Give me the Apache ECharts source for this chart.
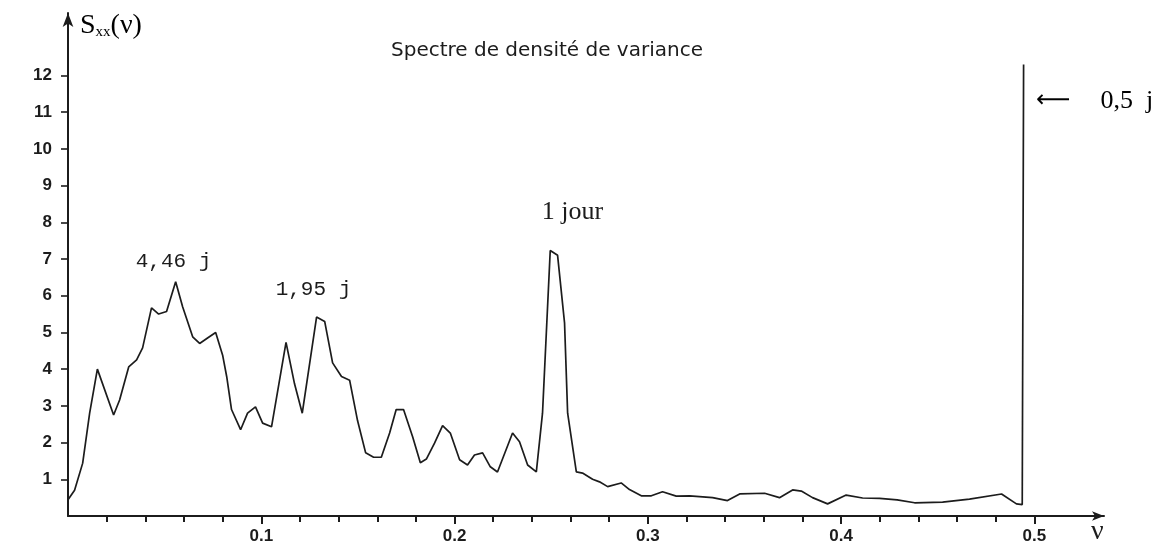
<!DOCTYPE html>
<html>
<head>
<meta charset="utf-8">
<script src="https://cdn.jsdelivr.net/npm/echarts@6/dist/echarts.min.js"></script>
<style>
  html, body { margin: 0; padding: 0; background: #ffffff; }
  #chart { width: 1174px; height: 548px; }
</style>
</head>
<body>
<div id="chart"></div>
<script>
// Frequency (cycles per sample, 6-hour sampling) and variance density S_xx(v)
const freq = [
  0.0000, 0.0034, 0.0076, 0.0112, 0.0152, 0.0236, 0.0267, 0.0314, 0.0355, 0.0386,
  0.0432, 0.0469, 0.0510, 0.0557, 0.0593, 0.0645, 0.0681, 0.0722, 0.0764, 0.0800,
  0.0821, 0.0846, 0.0893, 0.0929, 0.0970, 0.1007, 0.1053, 0.1128, 0.1172, 0.1212,
  0.1286, 0.1328, 0.1369, 0.1415, 0.1457, 0.1498, 0.1540, 0.1581, 0.1621, 0.1664,
  0.1698, 0.1736, 0.1783, 0.1823, 0.1854, 0.1897, 0.1938, 0.1978, 0.2026, 0.2067,
  0.2103, 0.2145, 0.2185, 0.2222, 0.2300, 0.2336, 0.2378, 0.2423, 0.2455, 0.2495,
  0.2533, 0.2569, 0.2585, 0.2630, 0.2662, 0.2714, 0.2750, 0.2792, 0.2862, 0.2905,
  0.2966, 0.3018, 0.3076, 0.3147, 0.3216, 0.3335, 0.3412, 0.3475, 0.3604, 0.3681,
  0.3749, 0.3794, 0.3852, 0.3930, 0.4026, 0.4111, 0.4199, 0.4290, 0.4380, 0.4525,
  0.4664, 0.4830, 0.4907, 0.4937, 0.4944
];
const density = [
  0.44, 0.70, 1.44, 2.80, 4.00, 2.75, 3.16, 4.06, 4.25, 4.58,
  5.67, 5.50, 5.57, 6.38, 5.70, 4.88, 4.70, 4.85, 5.00, 4.38,
  3.80, 2.90, 2.35, 2.80, 2.97, 2.53, 2.43, 4.73, 3.60, 2.80,
  5.42, 5.30, 4.17, 3.80, 3.70, 2.60, 1.72, 1.60, 1.60, 2.26,
  2.90, 2.90, 2.16, 1.45, 1.55, 1.99, 2.46, 2.26, 1.53, 1.39,
  1.66, 1.72, 1.34, 1.20, 2.26, 2.02, 1.39, 1.20, 2.80, 7.23,
  7.10, 5.26, 2.80, 1.20, 1.17, 1.00, 0.93, 0.80, 0.90, 0.72,
  0.55, 0.55, 0.66, 0.54, 0.55, 0.50, 0.42, 0.60, 0.62, 0.50,
  0.71, 0.68, 0.50, 0.33, 0.57, 0.49, 0.48, 0.44, 0.36, 0.38,
  0.46, 0.60, 0.33, 0.31, 12.3
];

// Axis tick positions and labels
const xMajorTicks = [0.1, 0.2, 0.3, 0.4, 0.5];
const xMinorTicks = [0.02, 0.04, 0.06, 0.08, 0.12, 0.14, 0.16, 0.18, 0.22, 0.24, 0.26, 0.28,
                     0.32, 0.34, 0.36, 0.38, 0.42, 0.44, 0.46, 0.48];
const yTicks = [1, 2, 3, 4, 5, 6, 7, 8, 9, 10, 11, 12];

// Period annotations placed at (frequency, density)
const peakNotes = [
  { name: '4,46 j', at: [0.0546, 6.92], family: 'Liberation Mono', size: 21 },
  { name: '1,95 j', at: [0.1270, 6.16], family: 'Liberation Mono', size: 21 },
  { name: '1 jour', at: [0.2610, 8.28], family: 'Liberation Serif', size: 26 }
];

const X_MAX = 0.536;
const Y_MAX = 13.7;
const INK = '#1c1c1c';

const chart = echarts.init(document.getElementById('chart'), null, { renderer: 'canvas' });

const baseX = {
  type: 'value', min: 0, max: X_MAX, gridIndex: 0, position: 'bottom',
  splitLine: { show: false }
};

chart.setOption({
  animation: false,
  backgroundColor: '#ffffff',
  title: {
    text: 'Spectre de densité de variance',
    left: 542, top: 36, textAlign: 'center',
    textStyle: { fontFamily: 'DejaVu Sans', fontSize: 20, fontWeight: 'normal', color: INK }
  },
  grid: { left: 68, top: 13, width: 1036, height: 503, containLabel: false },
  xAxis: [
    Object.assign({}, baseX, {
      axisLine: { show: true, symbol: ['none', 'arrow'], symbolSize: [7, 12],
                  lineStyle: { color: INK, width: 2 } },
      axisTick: { show: true, customValues: xMajorTicks, length: 8, inside: false,
                  lineStyle: { color: INK, width: 2 } },
      axisLabel: { show: true, customValues: xMajorTicks, margin: 12, color: INK,
                   fontFamily: 'Liberation Sans', fontWeight: 'bold', fontSize: 17,
                   formatter: v => v.toFixed(1) }
    }),
    Object.assign({}, baseX, {
      axisLine: { show: false },
      axisTick: { show: true, customValues: xMinorTicks, length: 6, inside: false,
                  lineStyle: { color: INK, width: 2 } },
      axisLabel: { show: false }
    })
  ],
  yAxis: {
    type: 'value', min: 0, max: Y_MAX,
    splitLine: { show: false },
    axisLine: { show: true, symbol: ['none', 'arrow'], symbolSize: [8, 14],
                lineStyle: { color: INK, width: 2 } },
    axisTick: { show: true, customValues: yTicks, length: 7, inside: false,
                lineStyle: { color: INK, width: 1.6 } },
    axisLabel: { show: true, customValues: yTicks, margin: 16, color: INK,
                 fontFamily: 'Liberation Sans', fontWeight: 'bold', fontSize: 17 }
  },
  series: [{
    type: 'line',
    xAxisIndex: 0,
    data: freq.map((f, i) => [f, density[i]]),
    symbol: 'none',
    smooth: false,
    clip: false,
    lineStyle: { color: INK, width: 1.7 },
    markPoint: {
      symbol: 'rect', symbolSize: 1,
      itemStyle: { color: 'rgba(0,0,0,0)' },
      label: { show: true, position: 'inside', color: INK },
      data: peakNotes.map(n => ({
        name: n.name, coord: n.at,
        label: { formatter: n.name, fontFamily: n.family, fontSize: n.size, color: INK }
      }))
    }
  }],
  graphic: [
    { // vertical axis name S_xx(v)
      type: 'text', left: 80, top: 12,
      style: {
        text: '{s|S}{sub|xx}{p|(ν)}',
        rich: {
          s:   { fontFamily: 'Liberation Serif', fontSize: 28, color: INK, verticalAlign: 'bottom', lineHeight: 32 },
          sub: { fontFamily: 'Liberation Serif', fontSize: 15, color: INK, verticalAlign: 'bottom', lineHeight: 26 },
          p:   { fontFamily: 'Liberation Serif', fontSize: 28, color: INK, verticalAlign: 'bottom', lineHeight: 32 }
        }
      }
    },
    { // horizontal axis name
      type: 'text', left: 1091, top: 518,
      style: { text: 'ν', fontFamily: 'Liberation Serif', fontSize: 28, fill: INK }
    },
    { // Nyquist period marker
      type: 'text', left: 1036, top: 88,
      style: {
        text: '{a|⟵}{t|0,5  j}',
        rich: {
          a: { fontFamily: 'DejaVu Sans', fontSize: 24, color: INK },
          t: { fontFamily: 'Liberation Serif', fontSize: 26, color: INK, padding: [0, 0, 0, 30] }
        }
      }
    }
  ]
});
</script>
</body>
</html>
